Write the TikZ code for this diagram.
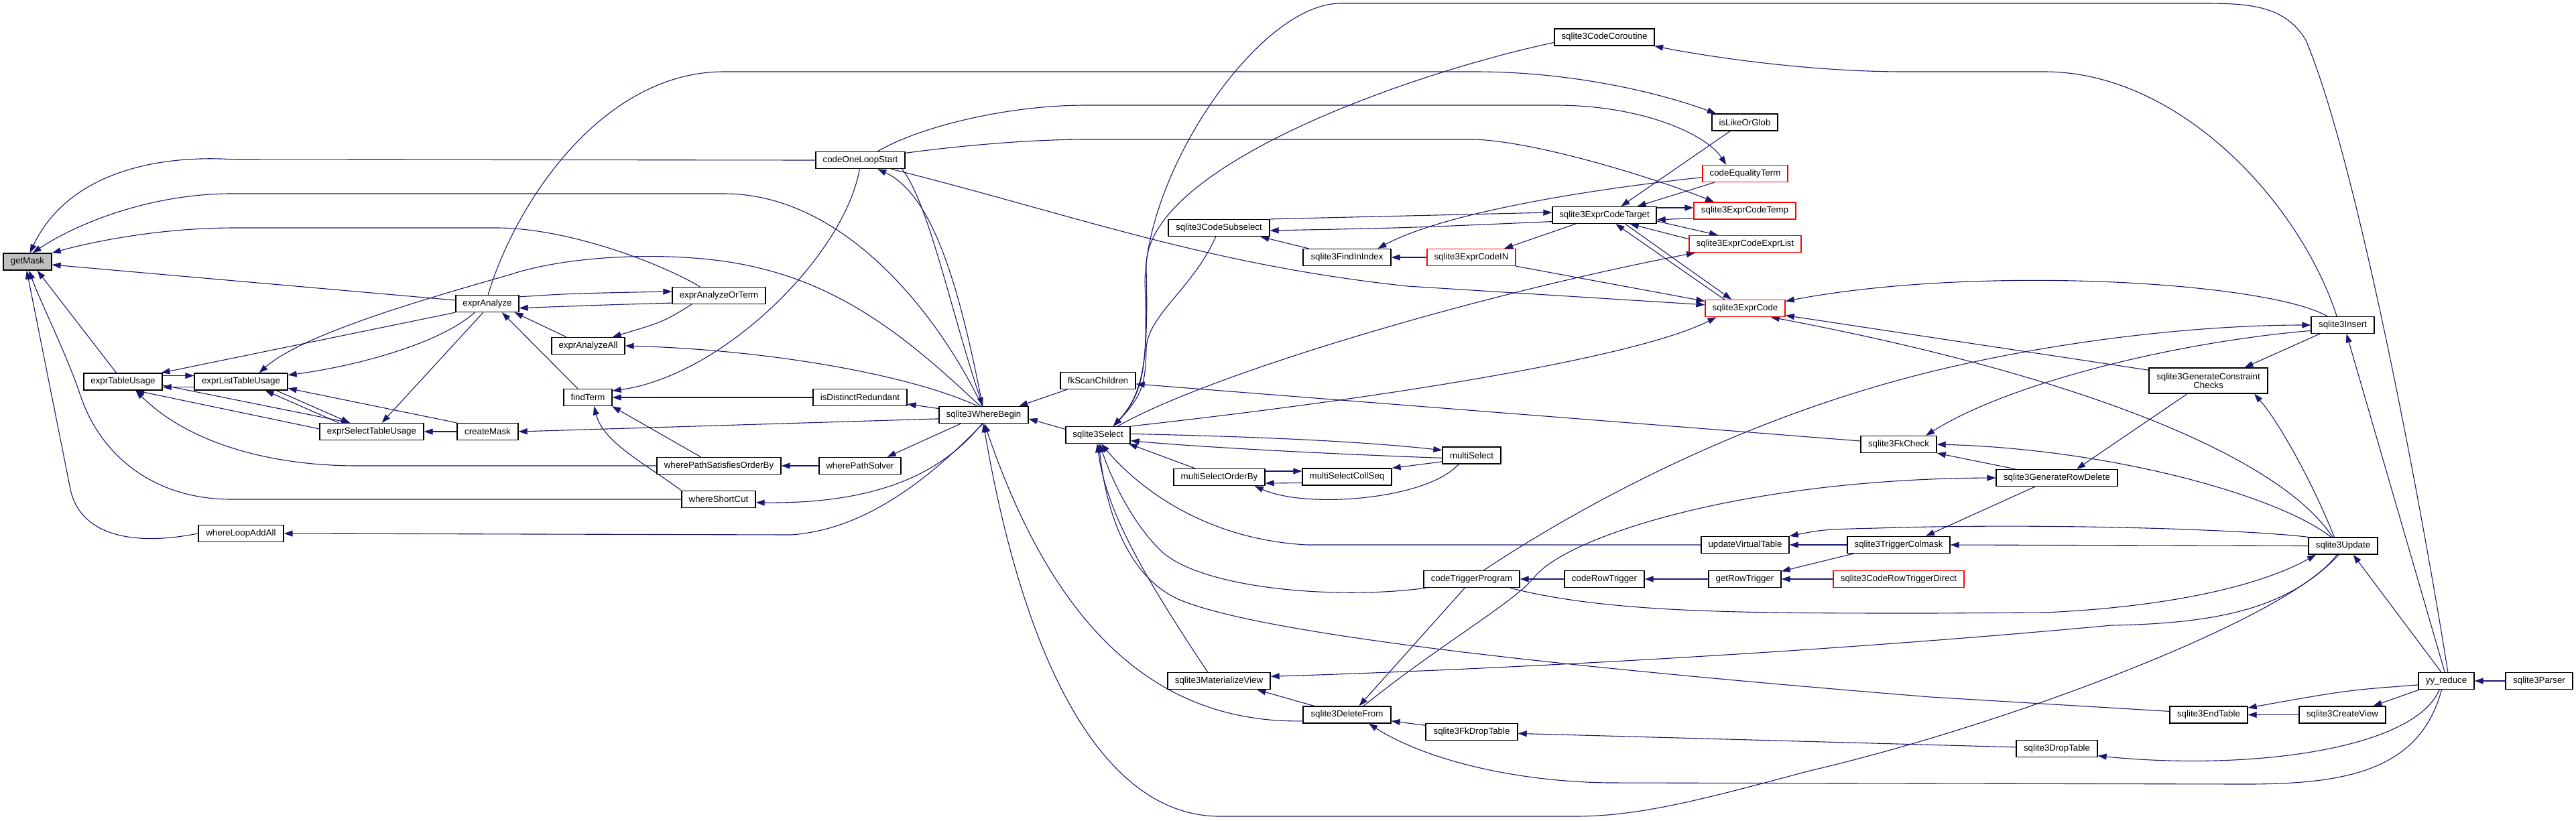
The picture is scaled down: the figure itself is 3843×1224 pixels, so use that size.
\documentclass[tikz,border=0pt]{standalone}
\usepackage{fontspec}
\setmainfont{Liberation Sans}
\usetikzlibrary{arrows.meta}
\definecolor{edgecol}{RGB}{25,25,112}
\definecolor{rootgray}{RGB}{191,191,191}
\pgfdeclarelayer{bg}
\pgfsetlayers{bg,main}
\tikzset{
  fn/.style={draw=black, line width=1.3pt, fill=white, rectangle, inner sep=0pt,
    minimum height=25pt, font=\fontsize{13.3pt}{12.7pt}\selectfont, text=black, align=center},
  trunc/.style={fn, draw=red},
  root/.style={fn, fill=rootgray},
  e/.style={draw=edgecol, line width=1.1pt, -{Triangle[length=13pt,width=9pt]}},
}
\begin{document}
\begin{tikzpicture}[x=1pt,y=-1pt]
\useasboundingbox (0,0) rectangle (3843,1224);
% ---------------- nodes ----------------
\node[root, minimum width=72pt] (getMask) at (41,390.5) {getMask};
\node[fn, minimum width=94pt] (eA) at (727,453) {exprAnalyze};
\node[fn, minimum width=109pt] (eAAll) at (877.5,516) {exprAnalyzeAll};
\node[fn, minimum width=117pt] (eTU) at (183.5,569.5) {exprTableUsage};
\node[fn, minimum width=139pt] (eLTU) at (359.5,569.5) {exprListTableUsage};
\node[fn, minimum width=72pt] (fT) at (877,593) {findTerm};
\node[fn, minimum width=155pt] (eSTU) at (554.5,644) {exprSelectTableUsage};
\node[fn, minimum width=91pt] (cM) at (727.5,644) {createMask};
\node[fn, minimum width=127pt] (wLAA) at (359.5,796) {whereLoopAddAll};
\node[fn, minimum width=133pt] (cOLS) at (1283.5,239) {codeOneLoopStart};
\node[fn, minimum width=151pt] (cSub) at (1818.5,340) {sqlite3CodeSubselect};
\node[fn, minimum width=139pt] (eAOT) at (1072.5,441) {exprAnalyzeOrTerm};
\node[fn, minimum width=140pt] (iDR) at (1283,593) {isDistinctRedundant};
\node[fn, minimum width=133pt] (wB) at (1467.5,619) {sqlite3WhereBegin};
\node[fn, minimum width=112pt] (fkSC) at (1638,568) {fkScanChildren};
\node[fn, minimum width=96pt] (sel) at (1638,649) {sqlite3Select};
\node[fn, minimum width=136pt] (mSOB) at (1819,712) {multiSelectOrderBy};
\node[fn, minimum width=185pt] (wPSOB) at (1072.5,695) {wherePathSatisfiesOrderBy};
\node[fn, minimum width=122pt] (wPS) at (1283,695) {wherePathSolver};
\node[fn, minimum width=110pt] (wSC) at (1072,745) {whereShortCut};
\node[fn, minimum width=153pt] (mView) at (1818.5,1016) {sqlite3MaterializeView};
\node[fn, minimum width=149pt] (cCo) at (2393.5,55.5) {sqlite3CodeCoroutine};
\node[fn, minimum width=98pt] (iLOG) at (2603,182.5) {isLikeOrGlob};
\node[trunc, minimum width=127pt] (cEqT) at (2603.5,259) {codeEqualityTerm};
\node[trunc, minimum width=152pt] (eCTemp) at (2603,314.5) {sqlite3ExprCodeTemp};
\node[fn, minimum width=155pt] (eCTarget) at (2393.5,321) {sqlite3ExprCodeTarget};
\node[trunc, minimum width=167pt] (eCEL) at (2603.5,364) {sqlite3ExprCodeExprList};
\node[fn, minimum width=131pt] (fII) at (2009.5,384) {sqlite3FindInIndex};
\node[trunc, minimum width=132pt] (eCIN) at (2195,384) {sqlite3ExprCodeIN};
\node[trunc, minimum width=119pt] (eC) at (2603.5,460) {sqlite3ExprCode};
\node[fn, minimum width=87pt] (mSel) at (2195.5,679.5) {multiSelect};
\node[fn, minimum width=133pt] (mSCS) at (2009.5,711.5) {multiSelectCollSeq};
\node[fn, minimum width=113pt] (fkChk) at (2832.5,663) {sqlite3FkCheck};
\node[fn, minimum width=131pt] (uVT) at (2603.5,813) {updateVirtualTable};
\node[fn, minimum width=153pt] (tCM) at (2832.5,813) {sqlite3TriggerColmask};
\node[fn, minimum width=143pt] (cTP) at (2195.5,864) {codeTriggerProgram};
\node[fn, minimum width=119pt] (cRT) at (2393.5,864) {codeRowTrigger};
\node[fn, minimum width=108pt] (gRT) at (2603,864) {getRowTrigger};
\node[trunc, minimum width=195pt] (cRTD) at (2832.5,864) {sqlite3CodeRowTriggerDirect};
\node[fn, minimum width=131pt] (delF) at (2009.5,1066.5) {sqlite3DeleteFrom};
\node[fn, minimum width=137pt] (fkDT) at (2195.5,1092) {sqlite3FkDropTable};
\node[fn, minimum width=94pt] (ins) at (3495,485) {sqlite3Insert};
\node[fn, minimum width=177pt, minimum height=38pt] (gcc) at (3294.5,568) {sqlite3GenerateConstraint\\Checks};
\node[fn, minimum width=181pt] (gRD) at (3068.5,713) {sqlite3GenerateRowDelete};
\node[fn, minimum width=103pt] (upd) at (3495.5,814.5) {sqlite3Update};
\node[fn, minimum width=83pt] (yyr) at (3649.5,1016) {yy\_reduce};
\node[fn, minimum width=100pt] (parser) at (3788,1016) {sqlite3Parser};
\node[fn, minimum width=116pt] (endT) at (3295,1066.5) {sqlite3EndTable};
\node[fn, minimum width=129pt] (crV) at (3494.5,1066.5) {sqlite3CreateView};
\node[fn, minimum width=121pt] (dropT) at (3068.5,1117) {sqlite3DropTable};
% ---------------- edges ----------------
\begin{pgfonlayer}{bg}
\fill[white] (0,0) rectangle (3843,1224);
% callers of getMask
\draw[e] (cOLS.west) -- (350,238) .. controls (230,230) and (100,260) .. (getMask.75);
\draw[e] (wB.100) .. controls (1400,470) and (1260,289) .. (1080,289) -- (345,289) .. controls (230,289) and (120,330) .. (getMask.60);
\draw[e] (eAOT.155) .. controls (990,395) and (850,340) .. (740,340) -- (350,340) .. controls (240,340) and (140,360) .. (getMask.north east);
\draw[e] (eA.174) -- (getMask.-7);
\draw[e] (eTU.127) -- (getMask.-42);
\draw[e] (wSC.west) -- (345,745) .. controls (230,745) and (150,680) .. (120,590) .. controls (100,530) and (60,450) .. (getMask.-80);
\draw[e] (wLAA.west) .. controls (200,815) and (120,800) .. (105,730) -- (getMask.-95);
% table usage group
\draw[e] ([yshift=-8pt]eLTU.west) -- ([yshift=-8pt]eTU.east);
\draw[e] ([yshift=9pt]eTU.east) -- ([yshift=9pt]eLTU.west);
\draw[e] (eA.south west) -- (eTU.13);
\draw[e] (eSTU.177) -- (eTU.-35);
\draw[e] (wPSOB.west) -- (533,695) .. controls (400,695) and (280,660) .. (eTU.-35);
\draw[e] (eSTU.165) -- (eLTU.-20);
\draw[e] (eA.-145) .. controls (660,510) and (540,545) .. (eLTU.8);
\draw[e] (cM.north west) -- (eLTU.-8);
\draw[e] (wB.112) .. controls (1350,500) and (1250,420) .. (1100,393) .. controls (1000,375) and (850,380) .. (760,410) .. controls (620,450) and (450,500) .. (eLTU.26);
\draw[e] (eTU.-5) -- (eSTU.158);
\draw[e] (eLTU.-14) -- (eSTU.158);
\draw[e] (eA.-115) -- (eSTU.41);
\draw[e] (cM.west) -- (eSTU.east);
% exprAnalyze group
\draw[e] (eAOT.-171) .. controls (900,455) .. (eA.-8);
\draw[e] (eAAll.158) -- (eA.-18);
\draw[e] (fT.139) -- (eA.-31);
\draw[e] (eA.12) .. controls (850,438) .. (eAOT.175);
\draw[e] (eAOT.-162) .. controls (990,480) .. (eAAll.20);
\draw[e] (wB.125) .. controls (1360,560) and (1150,522) .. (eAAll.east);
% findTerm
\draw[e] (cOLS.-95) .. controls (1260,380) and (1080,560) .. (fT.15);
\draw[e] (iDR.west) -- (fT.east);
\draw[e] (wPSOB.154) -- (fT.-20);
\draw[e] (wSC.north west) .. controls (960,690) and (900,660) .. (fT.-55);
% sqlite3WhereBegin callees
\draw[e] (wB.-175) -- (cM.east);
\draw[e] (wB.-95) .. controls (1400,700) and (1300,790) .. (1180,798) -- (wLAA.east);
\draw[e] (wB.172) -- (iDR.-8);
\draw[e] (wB.-159) -- (wPS.18);
\draw[e] (wPS.west) -- (wPSOB.east);
\draw[e] (wB.-100) .. controls (1410,700) and (1320,752) .. (wSC.-5);
\draw[e] (wB.97) .. controls (1430,420) and (1390,290) .. (cOLS.-27);
\draw[e] (cOLS.-12) .. controls (1385,300) and (1420,470) .. (wB.95);
% codeOneLoopStart callees
\draw[e] (eA.85) .. controls (770,300) and (900,107) .. (1080,107) -- (2200,107) .. controls (2350,107) and (2480,140) .. (iLOG.163);
\draw[e] (cOLS.27) .. controls (1370,190) and (1500,157) .. (1620,157) -- (2320,157) .. controls (2450,157) and (2545,200) .. (cEqT.155);
\draw[e] (cOLS.9) .. controls (1450,215) and (1550,208) .. (1620,208) -- (2200,208) .. controls (2300,212) and (2480,270) .. (eCTemp.164);
\draw[e] (cOLS.-16) .. controls (1600,320) and (1800,395) .. (2100,427) -- (eC.175);
% callers of sqlite3WhereBegin
\draw[e] (fkSC.-164) -- (wB.14);
\draw[e] (sel.170) -- (wB.-5);
\draw[e] (delF.-172) .. controls (1700,1080) and (1560,900) .. (wB.-85);
\draw[e] (upd.-125) .. controls (3420,920) and (3000,1080) .. (2700,1150) .. controls (2550,1190) and (2450,1218) .. (2350,1218) -- (1820,1218) .. controls (1650,1218) and (1530,1000) .. (wB.-92);
% callers of sqlite3Select
\draw[e] (fkChk.175) -- (fkSC.-5);
\draw[e] (yyr.80) .. controls (3620,800) and (3520,250) .. (3440,60) .. controls (3410,10) and (3360,5) .. (3290,5) -- (2000,5) .. controls (1880,5) and (1712,250) .. (1708,420) .. controls (1712,540) and (1708,585) .. (sel.30);
\draw[e] (cCo.-174) .. controls (2100,110) and (1705,250) .. (1710,400) .. controls (1713,530) and (1708,585) .. (sel.30);
\draw[e] (cSub.-110) .. controls (1780,430) and (1712,470) .. (1710,520) .. controls (1709,570) and (1705,590) .. (sel.30);
\draw[e] (mSel.-175) .. controls (2000,678) and (1800,668) .. (sel.-10);
\draw[e] (sel.2) .. controls (1800,650) and (2000,655) .. (mSel.170);
\draw[e] (mSOB.160) -- (sel.-16);
\draw[e] (mView.142) .. controls (1700,850) and (1650,760) .. (sel.-95);
\draw[e] (cTP.-169) .. controls (2000,895) and (1790,880) .. (1730,820) .. controls (1690,780) and (1660,720) .. (sel.-80);
\draw[e] (endT.175) -- (2880,1040) .. controls (2300,993) and (1880,945) .. (1760,895) .. controls (1680,860) and (1650,760) .. (sel.-85);
\draw[e] (uVT.west) -- (1950,813) .. controls (1800,805) and (1700,730) .. (sel.-70);
% sqlite3Select callees
\draw[e] (sel.24) .. controls (1800,560) and (2200,440) .. (eCEL.-170);
\draw[e] (sel.15) .. controls (2100,590) and (2450,530) .. (eC.-163);
% multiSelect group
\draw[e] ([yshift=9pt]mSOB.east) -- ([yshift=8.5pt]mSCS.west);
\draw[e] ([yshift=-9pt]mSCS.west) -- ([yshift=-9pt]mSOB.east);
\draw[e] (mSel.-146) .. controls (2130,745) and (1950,760) .. (mSOB.-14);
\draw[e] (mSel.-168) -- (mSCS.north east);
% expression code group
\draw[e] (cSub.north east) .. controls (2100,322) .. (eCTarget.177);
\draw[e] (eCTarget.-173) .. controls (2100,340) .. (cSub.-3);
\draw[e] (fII.167) -- (cSub.-12);
\draw[e] (eCTarget.-163) -- (eCIN.15);
\draw[e] (iLOG.-149) -- (eCTarget.28);
\draw[e] (cEqT.-164) -- (eCTarget.15);
\draw[e] ([yshift=11pt]eCTarget.east) -- ([yshift=4.5pt]eCTemp.west);
\draw[e] ([yshift=-11pt]eCTemp.west) -- ([yshift=-7pt]eCTarget.east);
\draw[e] ([yshift=-9pt]eCTarget.east) -- (eCEL.162);
\draw[e] (eCEL.175) -- (eCTarget.-19);
\draw[e] (eC.157) -- (eCTarget.-38);
\draw[e] (eCTarget.-23) -- (eC.147);
\draw[e] (eCIN.south east) -- (eC.170);
\draw[e] (cEqT.-175) .. controls (2350,285) and (2150,320) .. (fII.16);
\draw[e] (eCIN.west) -- (fII.east);
% callers of sqlite3ExprCode
\draw[e] (ins.150) .. controls (3380,420) and (2950,395) .. (eC.10);
\draw[e] (gcc.170) -- (eC.-10);
\draw[e] (upd.140) .. controls (3400,680) and (3100,560) .. (eC.-19);
% insert / update / delete group
\draw[e] (cTP.36) .. controls (2350,760) and (2600,620) .. (2900,550) .. controls (3100,503) and (3300,485) .. (ins.west);
\draw[e] (ins.124) .. controls (3430,300) and (3250,107) .. (3050,107) -- (2840,107) .. controls (2700,107) and (2550,85) .. (cCo.-10);
\draw[e] (delF.28) .. controls (2150,960) and (2258,900) .. (2290,860) .. controls (2340,800) and (2600,715) .. (gRD.west);
\draw[e] (cTP.-128) -- (delF.36);
\draw[e] (cTP.-13) .. controls (2400,915) and (2600,915) .. (2880,915) -- (3050,914) .. controls (3250,905) and (3380,870) .. (upd.-162);
\draw[e] (cRT.west) -- (cTP.east);
\draw[e] (gRT.west) -- (cRT.east);
\draw[e] (cRTD.west) -- (gRT.east);
\draw[e] (tCM.-169) -- (gRT.12);
\draw[e] (tCM.west) -- (uVT.east);
\draw[e] (upd.north west) .. controls (3350,790) and (3050,780) .. (2800,788) .. controls (2720,790) .. (uVT.north east);
\draw[e] (upd.west) -- (tCM.east);
\draw[e] (gRD.-158) -- (tCM.18);
\draw[e] (ins.-170) .. controls (3250,510) and (3000,570) .. (fkChk.18);
\draw[e] (upd.144) .. controls (3400,740) and (3150,670) .. (fkChk.east);
\draw[e] (gRD.168) -- (fkChk.south east);
\draw[e] (ins.-159) -- (gcc.20);
\draw[e] (upd.135) .. controls (3450,720) and (3400,630) .. (gcc.-16);
\draw[e] (gcc.-148) -- (gRD.24);
\draw[e] (yyr.100) -- (ins.-67);
\draw[e] (yyr.120) -- (upd.-41);
\draw[e] (upd.-115) .. controls (3420,900) and (3330,930) .. (3150,933) .. controls (2700,975) and (2200,1000) .. (mView.5);
\draw[e] (delF.165) -- (mView.-13);
\draw[e] (parser.west) -- (yyr.east);
\draw[e] (yyr.-172) .. controls (3500,1030) .. (endT.10);
\draw[e] (yyr.-162) -- (crV.16);
\draw[e] (yyr.-128) .. controls (3600,1120) and (3350,1150) .. (dropT.-10);
\draw[e] (yyr.-118) .. controls (3610,1150) and (3500,1170) .. (3350,1170) -- (2400,1168) .. controls (2250,1166) and (2120,1130) .. (delF.-22);
\draw[e] (crV.west) -- (endT.east);
\draw[e] (dropT.178) -- (fkDT.-2);
\draw[e] (fkDT.172) -- (delF.-8);
\end{pgfonlayer}
\end{tikzpicture}
\end{document}
